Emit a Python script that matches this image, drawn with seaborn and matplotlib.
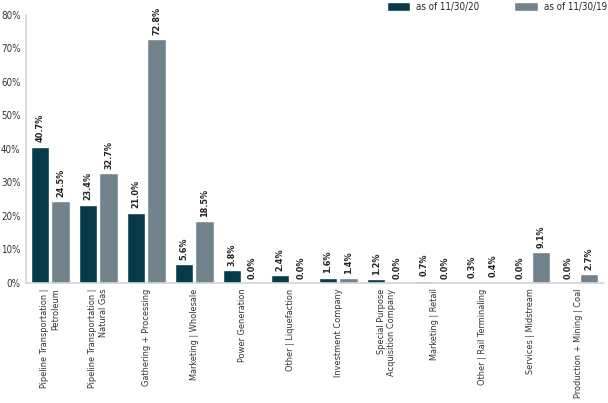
import pandas as pd
import matplotlib.pyplot as plt
import seaborn as sns
from matplotlib import font_manager

categories = [
    'Pipeline Transportation |\nPetroleum',
    'Pipeline Transportation |\nNatural Gas',
    'Gathering + Processing',
    'Marketing | Wholesale',
    'Power Generation',
    'Other | Liquefaction',
    'Investment Company',
    'Special Purpose\nAcquisition Company',
    'Marketing | Retail',
    'Other | Rail Terminaling',
    'Services | Midstream',
    'Production + Mining | Coal',
]
vals_2020 = [40.7, 23.4, 21.0, 5.6, 3.8, 2.4, 1.6, 1.2, 0.7, 0.3, 0.0, 0.0]
vals_2019 = [24.5, 32.7, 72.8, 18.5, 0.0, 0.0, 1.4, 0.0, 0.0, 0.4, 9.1, 2.7]
series = ['as of 11/30/20', 'as of 11/30/19']
y_ticks = [0, 10, 20, 30, 40, 50, 60, 70, 80]

df = pd.DataFrame({
    'category': categories * 2,
    'value': vals_2020 + vals_2019,
    'series': [series[0]] * len(categories) + [series[1]] * len(categories),
})

sns.set_style('white')
names = {f.name for f in font_manager.fontManager.ttflist}
fam = 'Liberation Sans Narrow' if 'Liberation Sans Narrow' in names else 'DejaVu Sans'
plt.rcParams['font.family'] = [fam, 'DejaVu Sans']
plt.rcParams['font.stretch'] = 'condensed'

fig = plt.figure(figsize=(6.08, 4.03), dpi=100)
ax = fig.add_axes([0.043, 0.298, 0.948, 0.665])

sns.barplot(data=df, x='category', y='value', hue='series',
            palette=['#073b4c', '#72838d'], width=0.86, gap=0.1,
            saturation=1, ax=ax)

for cont in ax.containers:
    ax.bar_label(cont, fmt='{:.1f}%', rotation=90, padding=3,
                 fontsize=6.5, fontweight='bold', color='#222222')

ax.set_ylim(0, 80)
ax.set_xlim(-0.5, len(categories) - 0.5)
ax.set_yticks(y_ticks)
ax.set_yticklabels([f'{t}%' for t in y_ticks], fontsize=7, color='#333333')
ax.set_xticks(range(len(categories)))
ax.set_xticklabels(categories, rotation=90, fontsize=6.6, color='#333333',
                   ha='center', va='top', multialignment='right')
ax.tick_params(axis='both', length=0, pad=4)
ax.set_xlabel('')
ax.set_ylabel('')

for side in ['top', 'right']:
    ax.spines[side].set_visible(False)
for side in ['left', 'bottom']:
    ax.spines[side].set_color('#d0d4d8')
    ax.spines[side].set_linewidth(1.2)

ax.legend(loc='upper right', bbox_to_anchor=(0.998, 0.996),
          bbox_transform=fig.transFigure, ncol=2, frameon=False,
          fontsize=7, handlelength=2.4, handleheight=1.1, handletextpad=0.6,
          columnspacing=3.6, borderaxespad=0, borderpad=0)

fig.savefig('out.png', dpi=100)
